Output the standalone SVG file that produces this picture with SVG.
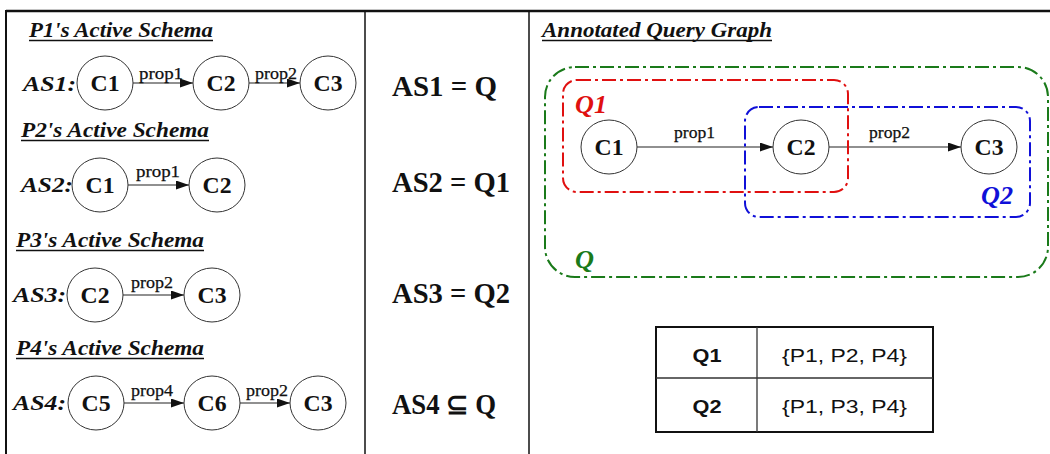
<svg xmlns="http://www.w3.org/2000/svg" width="1050" height="454" viewBox="0 0 1050 454">
<style>
.frame{stroke:#111;fill:none}
.node{fill:#fff;stroke:#333;stroke-width:1}
.nl{font-family:"Liberation Serif",serif;font-weight:bold;font-size:23px;fill:#111;text-anchor:middle}
.edge{stroke:#222;stroke-width:1.2;fill:none;marker-end:url(#arr)}
.el{font-family:"Liberation Serif",serif;font-size:17px;fill:#111;stroke:#111;stroke-width:0.25}
.title{font-family:"Liberation Serif",serif;font-weight:bold;font-style:italic;font-size:20px;fill:#111}
.ul{stroke:#111;stroke-width:1.3}
.as{font-family:"Liberation Serif",serif;font-weight:bold;font-style:italic;font-size:22px;fill:#111}
.eq{font-family:"Liberation Serif",serif;font-weight:bold;font-size:29px;fill:#111}
.grp{fill:none;stroke-width:2;stroke-dasharray:14 4 3 4}
.gl{font-family:"Liberation Serif",serif;font-style:italic;font-weight:bold;font-size:25px}
.tb{font-family:"Liberation Sans",Arial,sans-serif;font-size:19px;fill:#111}
</style>
<defs>
<marker id="arr" markerUnits="userSpaceOnUse" markerWidth="14" markerHeight="10" refX="13" refY="4.5" orient="auto">
<path d="M0,0 L13,4.5 L0,9 z" fill="#111"/>
</marker>
</defs>
<rect width="1050" height="454" fill="#fff"/>
<g id="frame">
<line class="frame" x1="6" y1="11" x2="1050" y2="11" stroke-width="2.5"/>
<line class="frame" x1="6" y1="10" x2="6" y2="454" stroke-width="2"/>
<line class="frame" x1="365" y1="11" x2="365" y2="454" stroke-width="1.5"/>
<line class="frame" x1="529" y1="11" x2="529" y2="454" stroke-width="1.5"/>
</g>
<g id="titles">
<text class="title" x="29" y="37" textLength="184" lengthAdjust="spacingAndGlyphs">P1's Active Schema</text>
<line class="ul" x1="29" y1="40.5" x2="213" y2="40.5"/>
<text class="title" x="21" y="137" textLength="188" lengthAdjust="spacingAndGlyphs">P2's Active Schema</text>
<line class="ul" x1="21" y1="140.5" x2="209" y2="140.5"/>
<text class="title" x="16" y="247" textLength="188" lengthAdjust="spacingAndGlyphs">P3's Active Schema</text>
<line class="ul" x1="16" y1="250.5" x2="204" y2="250.5"/>
<text class="title" x="16" y="355" textLength="188" lengthAdjust="spacingAndGlyphs">P4's Active Schema</text>
<line class="ul" x1="16" y1="358.5" x2="204" y2="358.5"/>
<text class="title" x="542" y="37" textLength="230" lengthAdjust="spacingAndGlyphs">Annotated Query Graph</text>
<line class="ul" x1="542" y1="40.5" x2="772" y2="40.5"/>
</g>
<g id="as-labels">
<text class="as" x="23" y="91" textLength="53" lengthAdjust="spacingAndGlyphs">AS1:</text>
<text class="as" x="21" y="192" textLength="52" lengthAdjust="spacingAndGlyphs">AS2:</text>
<text class="as" x="13" y="302" textLength="53" lengthAdjust="spacingAndGlyphs">AS3:</text>
<text class="as" x="13" y="410" textLength="53" lengthAdjust="spacingAndGlyphs">AS4:</text>
</g>
<g id="equations">
<text class="eq" x="392" y="96" textLength="105" lengthAdjust="spacingAndGlyphs">AS1 = Q</text>
<text class="eq" x="392" y="192" textLength="118" lengthAdjust="spacingAndGlyphs">AS2 = Q1</text>
<text class="eq" x="392" y="303" textLength="118" lengthAdjust="spacingAndGlyphs">AS3 = Q2</text>
<text class="eq" x="392" y="414" textLength="104" lengthAdjust="spacingAndGlyphs">AS4 ⊆ Q</text>
</g>
<g id="connectors">
<line class="edge" x1="133" y1="83" x2="193" y2="83"/>
<line class="edge" x1="249" y1="83" x2="300" y2="83"/>
<line class="edge" x1="128" y1="185" x2="189" y2="185"/>
<line class="edge" x1="123" y1="295" x2="184" y2="295"/>
<line class="edge" x1="124" y1="403" x2="184" y2="403"/>
<line class="edge" x1="240" y1="403" x2="290" y2="403"/>
<line class="edge" x1="637" y1="147" x2="773" y2="147"/>
<line class="edge" x1="829" y1="147" x2="961" y2="147"/>
<text class="el" x="139" y="79" textLength="44" lengthAdjust="spacingAndGlyphs">prop1</text>
<text class="el" x="255" y="79" textLength="42" lengthAdjust="spacingAndGlyphs">prop2</text>
<text class="el" x="136" y="177" textLength="44" lengthAdjust="spacingAndGlyphs">prop1</text>
<text class="el" x="131" y="288" textLength="42" lengthAdjust="spacingAndGlyphs">prop2</text>
<text class="el" x="131" y="396" textLength="42" lengthAdjust="spacingAndGlyphs">prop4</text>
<text class="el" x="246" y="396" textLength="42" lengthAdjust="spacingAndGlyphs">prop2</text>
<text class="el" x="674" y="138" textLength="41" lengthAdjust="spacingAndGlyphs">prop1</text>
<text class="el" x="869" y="138" textLength="41" lengthAdjust="spacingAndGlyphs">prop2</text>
</g>
<g id="as1-c1"><ellipse class="node" cx="105" cy="83" rx="28" ry="27"/><text class="nl" x="105" y="91" textLength="29" lengthAdjust="spacingAndGlyphs">C1</text></g>
<g id="as1-c2"><ellipse class="node" cx="221" cy="83" rx="28" ry="27"/><text class="nl" x="221" y="91" textLength="29" lengthAdjust="spacingAndGlyphs">C2</text></g>
<g id="as1-c3"><ellipse class="node" cx="328" cy="83" rx="28" ry="27"/><text class="nl" x="328" y="91" textLength="29" lengthAdjust="spacingAndGlyphs">C3</text></g>
<g id="as2-c1"><ellipse class="node" cx="100" cy="185" rx="28" ry="27"/><text class="nl" x="100" y="193" textLength="29" lengthAdjust="spacingAndGlyphs">C1</text></g>
<g id="as2-c2"><ellipse class="node" cx="217" cy="185" rx="28" ry="27"/><text class="nl" x="217" y="193" textLength="29" lengthAdjust="spacingAndGlyphs">C2</text></g>
<g id="as3-c2"><ellipse class="node" cx="95" cy="295" rx="28" ry="27"/><text class="nl" x="95" y="303" textLength="29" lengthAdjust="spacingAndGlyphs">C2</text></g>
<g id="as3-c3"><ellipse class="node" cx="212" cy="295" rx="28" ry="27"/><text class="nl" x="212" y="303" textLength="29" lengthAdjust="spacingAndGlyphs">C3</text></g>
<g id="as4-c5"><ellipse class="node" cx="96" cy="403" rx="28" ry="27"/><text class="nl" x="96" y="411" textLength="29" lengthAdjust="spacingAndGlyphs">C5</text></g>
<g id="as4-c6"><ellipse class="node" cx="212" cy="403" rx="28" ry="27"/><text class="nl" x="212" y="411" textLength="29" lengthAdjust="spacingAndGlyphs">C6</text></g>
<g id="as4-c3"><ellipse class="node" cx="318" cy="403" rx="28" ry="27"/><text class="nl" x="318" y="411" textLength="29" lengthAdjust="spacingAndGlyphs">C3</text></g>
<g id="group-q"><rect class="grp" x="545" y="67" width="503" height="210" rx="30" stroke="#1a7a1a"/><text class="gl" x="575" y="268" fill="#1a7a1a" textLength="19" lengthAdjust="spacingAndGlyphs">Q</text></g>
<g id="group-q1"><rect class="grp" x="563" y="80" width="285" height="112" rx="14" stroke="#e01010"/><text class="gl" x="575" y="113" fill="#e01010" textLength="32" lengthAdjust="spacingAndGlyphs">Q1</text></g>
<g id="group-q2"><rect class="grp" x="745" y="107" width="285" height="110" rx="14" stroke="#1010d8"/><text class="gl" x="981" y="204" fill="#1010d8" textLength="32" lengthAdjust="spacingAndGlyphs">Q2</text></g>
<g id="q-c1"><ellipse class="node" cx="609" cy="147" rx="28" ry="27"/><text class="nl" x="609" y="155" textLength="29" lengthAdjust="spacingAndGlyphs">C1</text></g>
<g id="q-c2"><ellipse class="node" cx="801" cy="147" rx="28" ry="27"/><text class="nl" x="801" y="155" textLength="29" lengthAdjust="spacingAndGlyphs">C2</text></g>
<g id="q-c3"><ellipse class="node" cx="989" cy="147" rx="28" ry="27"/><text class="nl" x="989" y="155" textLength="29" lengthAdjust="spacingAndGlyphs">C3</text></g>
<g id="table">
<rect x="656" y="327" width="277" height="105" fill="none" stroke="#111" stroke-width="2"/>
<line x1="757" y1="327" x2="757" y2="432" stroke="#333" stroke-width="1.3"/>
<line x1="656" y1="378" x2="933" y2="378" stroke="#333" stroke-width="1.3"/>
<text class="tb" x="707" y="362" font-weight="bold" text-anchor="middle" textLength="29" lengthAdjust="spacingAndGlyphs">Q1</text>
<text class="tb" x="782" y="362" textLength="125" lengthAdjust="spacingAndGlyphs">{P1, P2, P4}</text>
<text class="tb" x="707" y="413" font-weight="bold" text-anchor="middle" textLength="29" lengthAdjust="spacingAndGlyphs">Q2</text>
<text class="tb" x="782" y="413" textLength="125" lengthAdjust="spacingAndGlyphs">{P1, P3, P4}</text>
</g>
</svg>
